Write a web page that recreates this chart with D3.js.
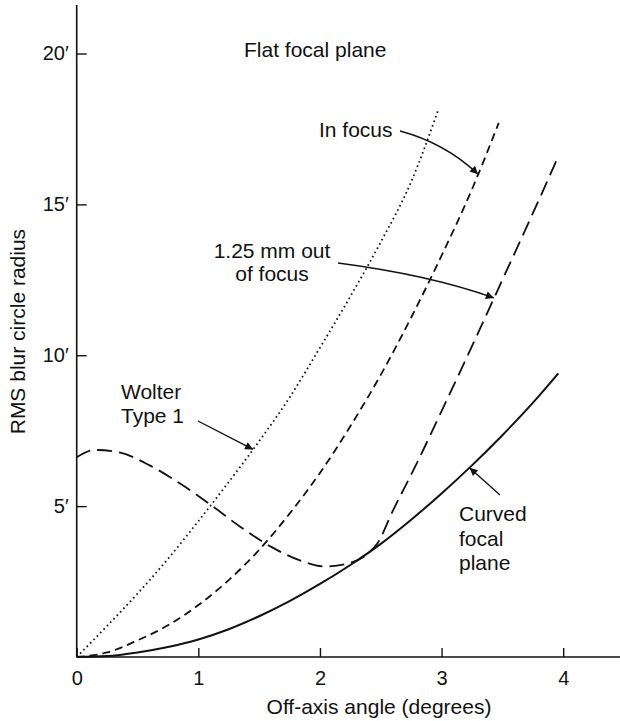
<!DOCTYPE html>
<html>
<head>
<meta charset="utf-8">
<script src="https://cdn.jsdelivr.net/npm/d3@7"></script>
<style>
  html, body { margin: 0; padding: 0; background: #fff; }
  svg { display: block; font-family: "Liberation Sans", Arial, Helvetica, sans-serif; }
</style>
</head>
<body>
<svg id="chart" width="620" height="721"></svg>
<script>
// Off-axis angle (degrees) vs RMS blur circle radius (arc minutes)
const xTickValues = [0, 1, 2, 3, 4];
const yTickValues = [5, 10, 15, 20];
const yTickLabels = ["5′", "10′", "15′", "20′"];

// Wolter Type 1, flat focal plane (dotted)
const wolterX = [0, 0.25, 0.5, 0.75, 1.0, 1.25, 1.5, 1.75, 2.0, 2.25, 2.5, 2.75, 2.97];
const wolterY = [0, 1.03, 2.10, 3.25, 4.50, 5.80, 7.15, 8.60, 10.25, 11.95, 13.75, 15.75, 18.1];

// In focus, flat focal plane (short dashes)
const inFocusX = [0, 0.25, 0.5, 0.75, 1.0, 1.25, 1.5, 1.75, 2.0, 2.25, 2.5, 2.75, 3.0, 3.25, 3.47];
const inFocusY = [0, 0.15, 0.55, 1.05, 1.72, 2.55, 3.55, 4.75, 6.10, 7.65, 9.35, 11.25, 13.3, 15.5, 17.7];

// 1.25 mm out of focus, flat focal plane (long dashes)
const outFocusX = [0, 0.15, 0.35, 0.6, 0.85, 1.1, 1.35, 1.6, 1.85, 2.05, 2.25, 2.4, 2.47, 2.6, 2.8, 3.0, 3.25, 3.5, 3.75, 3.95];
const outFocusY = [6.62, 6.86, 6.78, 6.35, 5.75, 5.05, 4.30, 3.65, 3.18, 3.00, 3.12, 3.45, 3.75, 4.85, 6.45, 8.15, 10.3, 12.5, 14.7, 16.5];

// Curved focal plane (solid)
const curvedX = [0, 0.25, 0.5, 0.75, 1.0, 1.25, 1.5, 1.75, 2.0, 2.25, 2.5, 2.75, 3.0, 3.25, 3.5, 3.75, 3.96];
const curvedY = [0, 0.03, 0.15, 0.33, 0.58, 0.92, 1.35, 1.85, 2.42, 3.05, 3.75, 4.55, 5.42, 6.35, 7.35, 8.42, 9.40];

const svg = d3.select("#chart");
const x = d3.scaleLinear().domain([0, 4]).range([76.7, 563.2]);
const y = d3.scaleLinear().domain([0, 20]).range([657, 53.5]);
const xMax = x.invert(620);
const yMax = y.invert(5);

const ink = "#111";
const fontSize = 21;

// Arrowhead marker
svg.append("defs").append("marker")
  .attr("id", "arrow")
  .attr("viewBox", "0 0 10 10")
  .attr("refX", 10).attr("refY", 5)
  .attr("markerWidth", 11).attr("markerHeight", 8)
  .attr("markerUnits", "userSpaceOnUse")
  .attr("orient", "auto")
  .append("path").attr("d", "M0,0 L10,5 L0,10 Z").attr("fill", ink);

// Axes
const gx = svg.append("g").attr("transform", `translate(0,${y(0)})`)
  .call(d3.axisBottom(x).tickValues(xTickValues).tickFormat(d3.format("d"))
    .tickSizeInner(-9).tickSizeOuter(0).tickPadding(14));
gx.select(".domain").remove();
gx.append("line").attr("x1", x(0)).attr("x2", x(xMax)).attr("stroke", ink).attr("stroke-width", 1.6);

const gy = svg.append("g").attr("transform", `translate(${x(0)},0)`)
  .call(d3.axisLeft(y).tickValues(yTickValues).tickFormat((d, i) => yTickLabels[i])
    .tickSizeInner(-10).tickSizeOuter(0).tickPadding(8));
gy.select(".domain").remove();
gy.append("line").attr("y1", y(0)).attr("y2", y(yMax)).attr("stroke", ink).attr("stroke-width", 1.6);

svg.selectAll(".tick line").attr("stroke", ink).attr("stroke-width", 1.4);
svg.selectAll(".tick text").attr("fill", ink).attr("font-size", 20)
  .attr("font-family", "Liberation Sans, Arial, sans-serif");

// Axis titles
svg.append("text").attr("x", 379).attr("y", 714)
  .attr("text-anchor", "middle").attr("font-size", fontSize).attr("fill", ink)
  .text("Off-axis angle (degrees)");
svg.append("text").attr("transform", `translate(25,${331.6}) rotate(-90)`)
  .attr("text-anchor", "middle").attr("font-size", fontSize).attr("fill", ink)
  .text("RMS blur circle radius");

// Curves
const line = d3.line().x(d => x(d[0])).y(d => y(d[1])).curve(d3.curveMonotoneX);
const pts = (xs, ys) => xs.map((v, i) => [v, ys[i]]);

const plot = svg.append("g").attr("fill", "none").attr("stroke", ink);
plot.append("path").attr("d", line(pts(curvedX, curvedY))).attr("stroke-width", 2);
plot.append("path").attr("d", line(pts(wolterX, wolterY)))
  .attr("stroke-width", 1.8).attr("stroke-dasharray", "1.6 3.2");
plot.append("path").attr("d", line(pts(inFocusX, inFocusY)))
  .attr("stroke-width", 1.8).attr("stroke-dasharray", "8 5");
plot.append("path").attr("d", line(pts(outFocusX, outFocusY)))
  .attr("stroke-width", 1.8).attr("stroke-dasharray", "15 7");

// Labels
const label = (lines, lx, ly, anchor, lh) => {
  const t = svg.append("text").attr("font-size", fontSize).attr("fill", ink)
    .attr("text-anchor", anchor);
  lines.forEach((s, i) => t.append("tspan").attr("x", lx).attr("y", ly + i * lh).text(s));
};
label(["Flat focal plane"], 244, 57, "start", 0);
label(["In focus"], 319, 137, "start", 0);
label(["1.25 mm out", "of focus"], 272, 258, "middle", 23.4);
label(["Wolter", "Type 1"], 121, 399, "start", 24);
label(["Curved", "focal", "plane"], 459, 521, "start", 24.7);

// Leader lines with arrowheads
const leaders = svg.append("g").attr("fill", "none").attr("stroke", ink).attr("stroke-width", 1.4);
leaders.append("path").attr("d", `M400,131 Q445,143 ${x(3.3)},${y(16.0)}`).attr("marker-end", "url(#arrow)");
leaders.append("path").attr("d", `M338,263 Q430,275 ${x(3.43)},${y(11.9)}`).attr("marker-end", "url(#arrow)");
leaders.append("path").attr("d", `M198,421 L${x(1.45)},${y(6.88)}`).attr("marker-end", "url(#arrow)");
leaders.append("path").attr("d", `M500,495 L${x(3.23)},${y(6.27)}`).attr("marker-end", "url(#arrow)");
</script>
</body>
</html>
